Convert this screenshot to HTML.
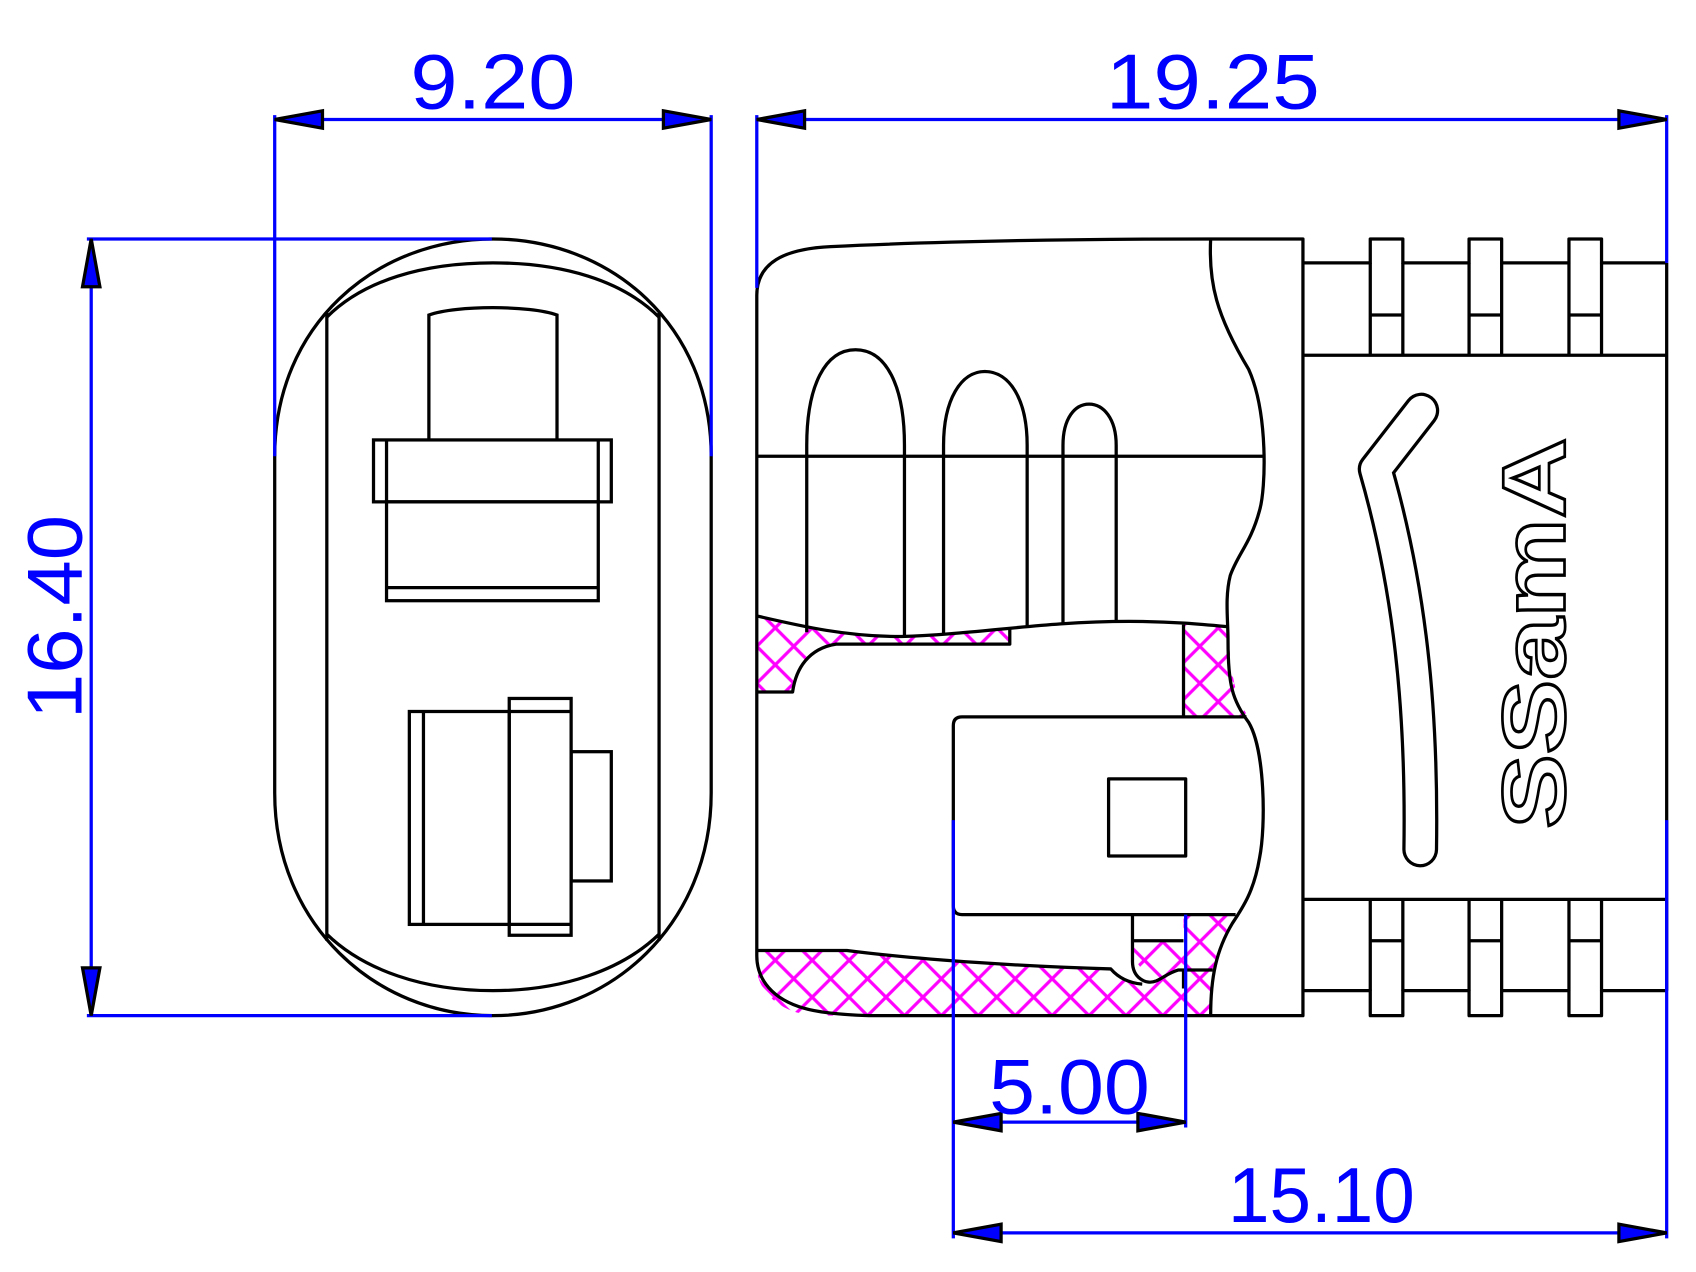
<!DOCTYPE html>
<html><head><meta charset="utf-8"><style>
html,body{margin:0;padding:0;background:#fff;}
svg{display:block;}
</style></head><body>
<svg width="1696" height="1272" viewBox="0 0 1562 1171" preserveAspectRatio="none" xmlns="http://www.w3.org/2000/svg">
<defs>
<pattern id="h" patternUnits="userSpaceOnUse" width="34" height="34">
<path d="M0,0 L34,34 M0,34 L34,0 M-2,2 L2,-2 M32,36 L36,32 M-2,32 L2,36 M32,-2 L36,2" stroke="#ff00ff" stroke-width="3" fill="none"/>
</pattern>
</defs>
<rect width="1562" height="1171" fill="#fff"/>

<!-- ===== LEFT VIEW ===== -->
<g fill="none" stroke="#000" stroke-width="3">
<path d="M253,420 C253,300 345,220 454,220 C563,220 655,300 655,420 L655,730 C655,850 563,935 454,935 C345,935 253,850 253,730 Z"/>
<path d="M301,292 C335,258 390,242 454,242 C518,242 573,258 607,292"/>
<path d="M301,860 C335,893 390,912 454,912 C518,912 573,893 607,860"/>
<line x1="301" y1="288" x2="301" y2="866"/>
<line x1="607" y1="288" x2="607" y2="866"/>
<path d="M395,405 L395,290 C420,281 488,281 513,290 L513,405"/>
<rect x="344" y="405" width="219" height="57"/>
<line x1="356" y1="405" x2="356" y2="462"/>
<line x1="551" y1="405" x2="551" y2="462"/>
<rect x="356" y="462" width="195" height="91"/>
<line x1="356" y1="541" x2="551" y2="541"/>
<rect x="377" y="655" width="92" height="196"/>
<line x1="390" y1="655" x2="390" y2="851"/>
<rect x="469" y="643" width="57" height="218"/>
<line x1="469" y1="655" x2="526" y2="655"/>
<line x1="469" y1="851" x2="526" y2="851"/>
<rect x="526" y="692" width="37" height="119"/>
</g>

<!-- ===== RIGHT VIEW hatch ===== -->
<g fill="url(#h)" stroke="none">
<path d="M697,567 C740,577 780,586 830,586 C880,585 900,581 930,578 L930,593 L770,593 C745,597 733,615 730,637 L697,637 Z"/>
<path d="M1090,575 L1131,577 C1133,610 1135,640 1150,660 L1090,660 Z"/>
<path d="M697,875 L780,875 C850,884 950,890 1025,892 C1035,905 1055,908 1068,900 C1050,895 1043,885 1043,866 L1090,866 L1090,842 L1135,842 C1125,870 1115,895 1115,935 L750,935 C715,932 697,910 697,890 Z"/>
</g>

<!-- ===== RIGHT VIEW body ===== -->
<g fill="none" stroke="#000" stroke-width="3" stroke-linejoin="round">
<path d="M697,880 L697,272 C697,242 722,229 765,227 C870,222 1000,220 1115,220 L1200,220 L1200,935 L800,935 C770,934 750,931 740,928 C712,920 697,902 697,880 Z"/>
<path d="M1115,220 C1113,260 1120,290 1150,340 C1168,380 1166,450 1160,470 C1152,500 1140,510 1133,530 C1128,550 1131,570 1131,590 C1131,630 1135,645 1150,665 C1165,690 1166,760 1160,790 C1155,820 1145,835 1135,850 C1120,875 1115,900 1115,935"/>
<line x1="697" y1="420" x2="1163" y2="420"/>
<path d="M697,567 C740,577 780,586 830,586 C900,584 960,572 1040,572 C1080,572 1110,575 1131,577"/>
<path d="M743,582 L743,410 C743,355 760,322 788,322 C816,322 833,355 833,410 L833,586"/>
<path d="M869,583 L869,410 C869,368 885,342 907,342 C930,342 946,368 946,410 L946,578"/>
<path d="M979,574 L979,410 C979,385 990,372 1003,372 C1016,372 1028,385 1028,410 L1028,572"/>
<path d="M930,578 L930,593 L770,593 C745,597 733,615 730,637 L697,637"/>
<line x1="1090" y1="575" x2="1090" y2="660"/>
<path d="M1148,660 L886,660 Q878,660 878,668 L878,834 Q878,842 886,842 L1138,842"/>
<rect x="1021" y="717" width="71" height="71"/>
<path d="M1043,842 L1043,885 C1043,900 1055,907 1065,903 C1072,900 1075,896 1085,893 L1117,893"/>
<line x1="1043" y1="866" x2="1090" y2="866"/>
<path d="M697,875 L780,875 C850,884 950,890 1023,892 C1030,900 1040,905 1052,906"/>
<line x1="1090" y1="893" x2="1090" y2="910"/>

<!-- ribs top -->
<path d="M1200,242 L1262,242 L1262,220 L1292,220 L1292,242 L1353,242 L1353,220 L1383,220 L1383,242 L1445,242 L1445,220 L1475,220 L1475,242 L1535,242"/>
<line x1="1200" y1="327" x2="1535" y2="327"/>
<line x1="1262" y1="242" x2="1262" y2="327"/><line x1="1292" y1="242" x2="1292" y2="327"/>
<line x1="1353" y1="242" x2="1353" y2="327"/><line x1="1383" y1="242" x2="1383" y2="327"/>
<line x1="1445" y1="242" x2="1445" y2="327"/><line x1="1475" y1="242" x2="1475" y2="327"/>
<line x1="1262" y1="290" x2="1292" y2="290"/><line x1="1353" y1="290" x2="1383" y2="290"/><line x1="1445" y1="290" x2="1475" y2="290"/>
<!-- ribs bottom -->
<line x1="1200" y1="828" x2="1535" y2="828"/>
<path d="M1200,912 L1262,912 L1262,935 L1292,935 L1292,912 L1353,912 L1353,935 L1383,935 L1383,912 L1445,912 L1445,935 L1475,935 L1475,912 L1535,912"/>
<line x1="1262" y1="828" x2="1262" y2="912"/><line x1="1292" y1="828" x2="1292" y2="912"/>
<line x1="1353" y1="828" x2="1353" y2="912"/><line x1="1383" y1="828" x2="1383" y2="912"/>
<line x1="1445" y1="828" x2="1445" y2="912"/><line x1="1475" y1="828" x2="1475" y2="912"/>
<line x1="1262" y1="866" x2="1292" y2="866"/><line x1="1353" y1="866" x2="1383" y2="866"/><line x1="1445" y1="866" x2="1475" y2="866"/>
<line x1="1535" y1="242" x2="1535" y2="912"/>
</g>
<!-- clip bar -->
<path d="M1308,782 C1310,650 1298,540 1267,432 L1309,378" fill="none" stroke="#000" stroke-width="33" stroke-linecap="round" stroke-linejoin="round"/>
<path d="M1308,782 C1310,650 1298,540 1267,432 L1309,378" fill="none" stroke="#fff" stroke-width="27" stroke-linecap="round" stroke-linejoin="round"/>
<text transform="translate(1441,583) rotate(-90)" text-anchor="middle" font-family="Liberation Sans, sans-serif" font-weight="bold" font-size="82" fill="#fff" stroke="#000" stroke-width="2.5" textLength="360" lengthAdjust="spacingAndGlyphs">SSamA</text>

<!-- ===== DIMENSIONS ===== -->
<g stroke="#0000ff" stroke-width="3" fill="none">
<line x1="253" y1="110" x2="655" y2="110"/>
<line x1="253" y1="106" x2="253" y2="420"/>
<line x1="655" y1="106" x2="655" y2="420"/>
<line x1="84" y1="220" x2="84" y2="935"/>
<line x1="80" y1="220" x2="453" y2="220"/>
<line x1="80" y1="935" x2="453" y2="935"/>
<line x1="697" y1="110" x2="1535" y2="110"/>
<line x1="697" y1="106" x2="697" y2="265"/>
<line x1="1535" y1="106" x2="1535" y2="242"/>
<line x1="1535" y1="755" x2="1535" y2="1140"/>
<line x1="878" y1="1135" x2="1535" y2="1135"/>
<line x1="878" y1="755" x2="878" y2="1140"/>
<line x1="878" y1="1033" x2="1092" y2="1033"/>
<line x1="1092" y1="842" x2="1092" y2="1038"/>
</g>
<g fill="#0000ff" stroke="#000" stroke-width="3" stroke-linejoin="miter">
<path d="M253,110 L297,102 L297,118 Z"/>
<path d="M655,110 L611,102 L611,118 Z"/>
<path d="M84,220 L76,264 L92,264 Z"/>
<path d="M84,935 L76,891 L92,891 Z"/>
<path d="M697,110 L741,102 L741,118 Z"/>
<path d="M1535,110 L1491,102 L1491,118 Z"/>
<path d="M878,1135 L922,1127 L922,1143 Z"/>
<path d="M1535,1135 L1491,1127 L1491,1143 Z"/>
<path d="M878,1033 L922,1025 L922,1041 Z"/>
<path d="M1092,1033 L1048,1025 L1048,1041 Z"/>
</g>
<g fill="#0000ff" font-family="Liberation Sans, sans-serif" font-size="72">
<text x="454" y="100" text-anchor="middle" textLength="152" lengthAdjust="spacingAndGlyphs">9.20</text>
<text x="1117" y="100" text-anchor="middle" textLength="197" lengthAdjust="spacingAndGlyphs">19.25</text>
<text x="985" y="1025" text-anchor="middle" textLength="148" lengthAdjust="spacingAndGlyphs">5.00</text>
<text x="1217" y="1125" text-anchor="middle" textLength="172" lengthAdjust="spacingAndGlyphs">15.10</text>
<text transform="translate(75,568) rotate(-90)" text-anchor="middle" textLength="188" lengthAdjust="spacingAndGlyphs">16.40</text>
</g>
</svg>
</body></html>
